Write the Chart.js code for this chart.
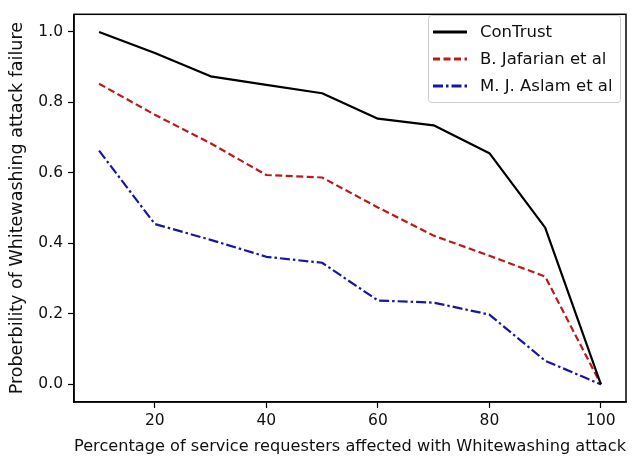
<!DOCTYPE html>
<html>
<head>
<meta charset="utf-8">
<script src="https://cdn.jsdelivr.net/npm/chart.js@4/dist/chart.umd.min.js"></script>
<style>
  html, body { margin: 0; padding: 0; background: #fff; }
  #wrap { width: 634px; height: 461px; }
</style>
</head>
<body>
<div id="wrap"><canvas id="c" width="634" height="461"></canvas></div>
<script>
// Share of service requesters hit by the whitewashing attack (%)
const percentages = [10, 20, 30, 40, 50, 60, 70, 80, 90, 100];
// Probability that the whitewashing attack fails, per model
const conTrust = [1.00, 0.94, 0.874, 0.85, 0.826, 0.754, 0.735, 0.656, 0.445, 0.0];
const jafarian = [0.853, 0.765, 0.684, 0.594, 0.587, 0.502, 0.422, 0.365, 0.306, 0.0];
const aslam    = [0.663, 0.455, 0.41, 0.362, 0.345, 0.238, 0.232, 0.198, 0.067, 0.0];
const seriesNames = ['ConTrust', 'B. Jafarian et al', 'M. J. Aslam et al'];
const xTicks = [20, 40, 60, 80, 100];
const yTicks = [0.0, 0.2, 0.4, 0.6, 0.8, 1.0];

const FONT = 'DejaVu Sans';

const toPoints = (ys) => percentages.map((x, i) => ({ x, y: ys[i] }));

// Frame around the plotting area and a boxed legend in the upper right corner
const framePlugin = {
  id: 'frame',
  afterDatasetsDraw(chart) {
    const { ctx, chartArea: a } = chart;
    ctx.save();
    ctx.strokeStyle = '#000';
    ctx.lineWidth = 1.5;
    ctx.strokeRect(a.left, a.top, a.right - a.left, a.bottom - a.top);

    // legend box
    const bx = 428, by = 15, bw = 192, bh = 87;
    ctx.fillStyle = 'rgba(255,255,255,0.9)';
    ctx.strokeStyle = '#cccccc';
    ctx.lineWidth = 1;
    ctx.beginPath();
    ctx.roundRect(bx + 0.5, by + 0.5, bw, bh, 3);
    ctx.fill();
    ctx.stroke();

    ctx.font = '16.5px "' + FONT + '"';
    ctx.textBaseline = 'middle';
    ctx.textAlign = 'left';
    chart.data.datasets.forEach((ds, i) => {
      const y = 32 + i * 27;
      ctx.strokeStyle = ds.borderColor;
      ctx.lineWidth = ds.borderWidth + 0.6;
      ctx.setLineDash(ds.borderDash || []);
      ctx.beginPath();
      ctx.moveTo(433, y);
      ctx.lineTo(467, y);
      ctx.stroke();
      ctx.setLineDash([]);
      ctx.fillStyle = '#111';
      ctx.fillText(ds.label, 480, y + 1);
    });
    ctx.restore();
  }
};

new Chart(document.getElementById('c'), {
  type: 'line',
  data: {
    datasets: [
      { label: seriesNames[0], data: toPoints(conTrust), borderColor: '#000000', borderWidth: 2.2, borderDash: [] },
      { label: seriesNames[1], data: toPoints(jafarian), borderColor: '#c01818', borderWidth: 2.2, borderDash: [7, 3.5] },
      { label: seriesNames[2], data: toPoints(aslam), borderColor: '#1616a6', borderWidth: 2.2, borderDash: [10, 3, 2.5, 3] }
    ]
  },
  options: {
    responsive: false,
    animation: false,
    events: [],
    elements: { point: { radius: 0 }, line: { tension: 0, borderJoinStyle: 'round' } },
    layout: { padding: { top: 6, right: 8, left: 0, bottom: 0 } },
    plugins: { legend: { display: false }, tooltip: { enabled: false } },
    scales: {
      x: {
        type: 'linear',
        min: 5.5,
        max: 104.5,
        afterBuildTicks: (s) => { s.ticks = xTicks.map(v => ({ value: v })); },
        afterFit: (s) => { s.height = 59; },
        grid: { drawOnChartArea: false, drawTicks: true, tickLength: 6, tickWidth: 1.2, tickColor: '#000' },
        border: { display: true, color: '#000', width: 1.5 },
        ticks: { color: '#111', font: { family: FONT, size: 15.5 }, padding: 4, maxRotation: 0, callback: (v) => String(v) },
        title: {
          display: true,
          text: 'Percentage of service requesters affected with Whitewashing attack',
          color: '#111',
          font: { family: FONT, size: 16.5 },
          padding: { top: 0, bottom: 4 }
        }
      },
      y: {
        type: 'linear',
        min: -0.05,
        max: 1.05,
        afterBuildTicks: (s) => { s.ticks = yTicks.map(v => ({ value: v })); },
        afterFit: (s) => { s.width = 74; },
        grid: { drawOnChartArea: false, drawTicks: true, tickLength: 6, tickWidth: 1.2, tickColor: '#000' },
        border: { display: true, color: '#000', width: 1.5 },
        ticks: { color: '#111', font: { family: FONT, size: 15.5 }, padding: 5, callback: (v) => Number(v).toFixed(1) },
        title: {
          display: true,
          text: 'Proberbility of Whitewashing attack failure',
          color: '#111',
          font: { family: FONT, size: 17.5 },
          padding: { top: 7, bottom: 0 }
        }
      }
    }
  },
  plugins: [framePlugin]
});
</script>
</body>
</html>
